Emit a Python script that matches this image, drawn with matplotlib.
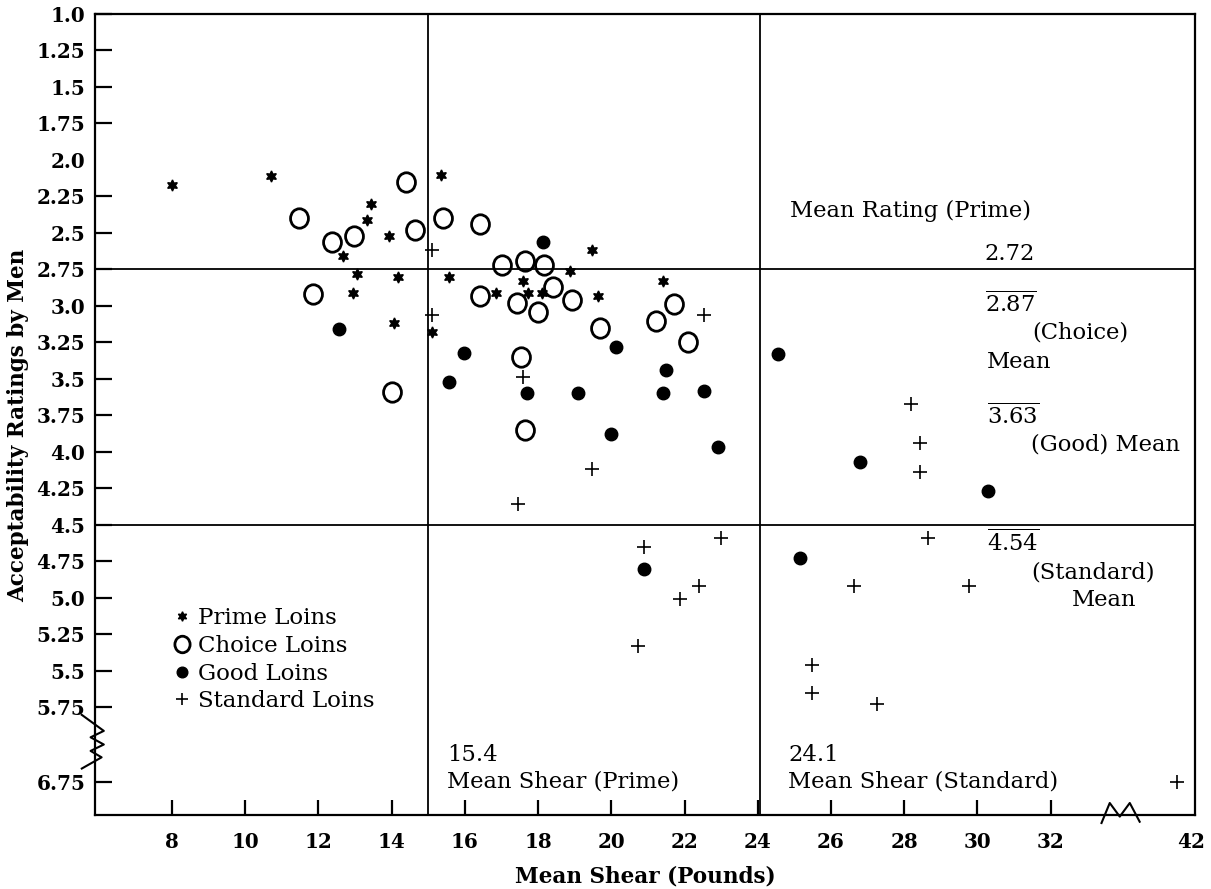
import numpy as np
import matplotlib
matplotlib.use("Agg")
import matplotlib.pyplot as plt
from matplotlib.path import Path

plt.rcParams['font.family'] = ['DejaVu Serif']
plt.rcParams['mathtext.fontset'] = 'dejavuserif'

# ---- data ----
prime_shear = [8.0, 10.7, 13.44, 13.32, 13.93, 12.68, 13.06, 14.18, 12.94, 14.07,
               15.34, 15.58, 16.85, 17.60, 17.72, 18.10, 18.87, 19.48, 19.63, 15.10, 21.41]
prime_rating = [2.17, 2.11, 2.30, 2.41, 2.52, 2.66, 2.78, 2.80, 2.91, 3.12,
                2.10, 2.80, 2.91, 2.83, 2.91, 2.91, 2.76, 2.62, 2.93, 3.18, 2.83]

choice_shear = [14.39, 11.47, 12.37, 12.97, 14.64, 11.84, 14.00, 15.40, 16.42, 17.01,
                17.65, 18.16, 16.42, 18.42, 17.42, 18.01, 18.92, 19.68, 21.72, 21.22,
                22.09, 17.53, 17.65]
choice_rating = [2.15, 2.40, 2.56, 2.52, 2.48, 2.92, 3.59, 2.40, 2.44, 2.72,
                 2.69, 2.72, 2.93, 2.87, 2.98, 3.04, 2.96, 3.15, 2.99, 3.10,
                 3.25, 3.35, 3.85]

good_shear = [12.56, 18.13, 15.99, 15.58, 17.71, 19.10, 20.13, 21.50, 21.41, 22.52,
              19.99, 22.90, 20.88, 24.55, 26.80, 30.29, 25.14]
good_rating = [3.16, 2.56, 3.32, 3.52, 3.60, 3.60, 3.28, 3.44, 3.60, 3.58,
               3.88, 3.97, 4.80, 3.33, 4.07, 4.27, 4.73]

std_shear = [15.10, 15.10, 17.60, 19.48, 17.46, 22.52, 20.88, 23.0, 22.39, 21.88,
             20.72, 28.18, 28.42, 28.42, 28.66, 26.64, 29.78, 25.48, 25.48, 27.25, 41.6]
std_rating = [2.62, 3.06, 3.49, 4.12, 4.36, 3.06, 4.65, 4.59, 4.92, 5.01,
              5.33, 3.67, 3.94, 4.14, 4.59, 4.92, 4.92, 5.46, 5.65, 5.73, 6.75]

# dividing lines as drawn on the chart
shear_lines = [15.0, 24.07]
rating_lines = [2.75, 4.5]

x_ticks = [8, 10, 12, 14, 16, 18, 20, 22, 24, 26, 28, 30, 32, 42]
y_ticks = [1.0, 1.25, 1.5, 1.75, 2.0, 2.25, 2.5, 2.75, 3.0, 3.25, 3.5, 3.75,
           4.0, 4.25, 4.5, 4.75, 5.0, 5.25, 5.5, 5.75, 6.75]
y_tick_labels = ['1.0', '1.25', '1.5', '1.75', '2.0', '2.25', '2.5', '2.75', '3.0',
                 '3.25', '3.5', '3.75', '4.0', '4.25', '4.5', '4.75', '5.0', '5.25',
                 '5.5', '5.75', '6.75']

# broken axes: compress the gaps 33.4-41 (shear) and 5.85-6.65 (rating)
xb_data = [0, 33.4, 41.0, 60]
xb_disp = [0, 33.4, 34.84, 53.84]
yb_data = [0, 5.85, 6.65, 10]
yb_disp = [0, 5.85, 6.162, 9.512]


def fx(v):
    return np.interp(v, xb_data, xb_disp)


def fx_inv(v):
    return np.interp(v, xb_disp, xb_data)


def fy(v):
    return np.interp(v, yb_data, yb_disp)


def fy_inv(v):
    return np.interp(v, yb_disp, yb_data)


# slightly tall "O" like the typed letter in the original
circ = Path.unit_circle()
oval = Path(circ.vertices * np.array([0.92, 1.0]), circ.codes)

fig = plt.figure(figsize=(12.11, 8.89), dpi=100)
ax = fig.add_axes([95 / 1211, 1 - 815 / 889, 1100 / 1211, 801 / 889])
ax.set_xscale('function', functions=(fx, fx_inv))
ax.set_yscale('function', functions=(fy, fy_inv))
ax.set_xlim(5.9, 42.1)
ax.set_ylim(6.976, 1.0)

for s in ax.spines.values():
    s.set_linewidth(1.6)

for v in shear_lines:
    ax.axvline(v, color='black', lw=1.3)
for v in rating_lines:
    ax.axhline(v, color='black', lw=1.3)

ax.plot(prime_shear, prime_rating, ls='none', marker=(6, 1, 0), ms=8, color='black',
        label='Prime Loins')
ax.plot(choice_shear, choice_rating, ls='none', marker=oval, ms=14, mfc='none',
        mec='black', mew=2.0, label='Choice Loins')
ax.plot(good_shear, good_rating, ls='none', marker='o', ms=9, color='black',
        label='Good Loins')
ax.plot(std_shear, std_rating, ls='none', marker='+', ms=10, mew=1.2, color='black',
        label='Standard Loins')

ax.set_xticks(x_ticks)
ax.set_xticklabels([str(t) for t in x_ticks])
ax.set_yticks(y_ticks)
ax.set_yticklabels(y_tick_labels)
ax.minorticks_off()
ax.tick_params(axis='both', direction='in', width=1.6, labelsize=14.4)
ax.tick_params(axis='y', length=12, pad=7)
ax.tick_params(axis='x', length=11, pad=12)
for lab in ax.get_xticklabels() + ax.get_yticklabels():
    lab.set_fontweight('bold')
# no tick marks at 42 and 2.0 in the original
ax.xaxis.get_major_ticks()[-1].tick1line.set_visible(False)
ax.yaxis.get_major_ticks()[4].tick1line.set_visible(False)

ax.set_xlabel('Mean Shear (Pounds)', fontsize=15.5, fontweight='bold', labelpad=10)
ax.set_ylabel('Acceptability Ratings by Men', fontsize=15.5, fontweight='bold')
ax.yaxis.set_label_coords(-0.06, 0.486)

# axis break marks
ax.plot([0.915, 0.9225, 0.9316, 0.9407, 0.9497], [-0.01, 0.015, -0.002, 0.015, -0.0084],
        transform=ax.transAxes, color='black', lw=1.5, clip_on=False)
ax.plot([-0.012, 0.008, -0.004, 0.008, -0.004, 0.006, -0.012],
        [0.125, 0.105, 0.097, 0.088, 0.080, 0.072, 0.058],
        transform=ax.transAxes, color='black', lw=1.5, clip_on=False)

fs = 16.3
notes = [
    (0.632, 0.754, 'Mean Rating (Prime)'),
    (0.809, 0.700, '2.72'),
    (0.809, 0.637, r'$\overline{\mathrm{2.87}}$'),
    (0.852, 0.602, '(Choice)'),
    (0.811, 0.566, 'Mean'),
    (0.811, 0.497, r'$\overline{\mathrm{3.63}}$'),
    (0.851, 0.462, '(Good) Mean'),
    (0.811, 0.340, r'$\overline{\mathrm{4.54}}$'),
    (0.851, 0.303, '(Standard)'),
    (0.888, 0.268, 'Mean'),
    (0.320, 0.075, '15.4'),
    (0.320, 0.042, 'Mean Shear (Prime)'),
    (0.630, 0.075, '24.1'),
    (0.630, 0.042, 'Mean Shear (Standard)'),
]
for xf, yf, t in notes:
    ax.text(xf, yf, t, transform=ax.transAxes, fontsize=fs, ha='left', va='center')

ax.legend(loc='upper left', bbox_to_anchor=(0.0635, 0.271), frameon=False, fontsize=16.5,
          handlelength=0.7, handletextpad=0.35, labelspacing=0.25, borderaxespad=0,
          markerscale=0.85)

fig.savefig('out.png', dpi=100, facecolor='white')
